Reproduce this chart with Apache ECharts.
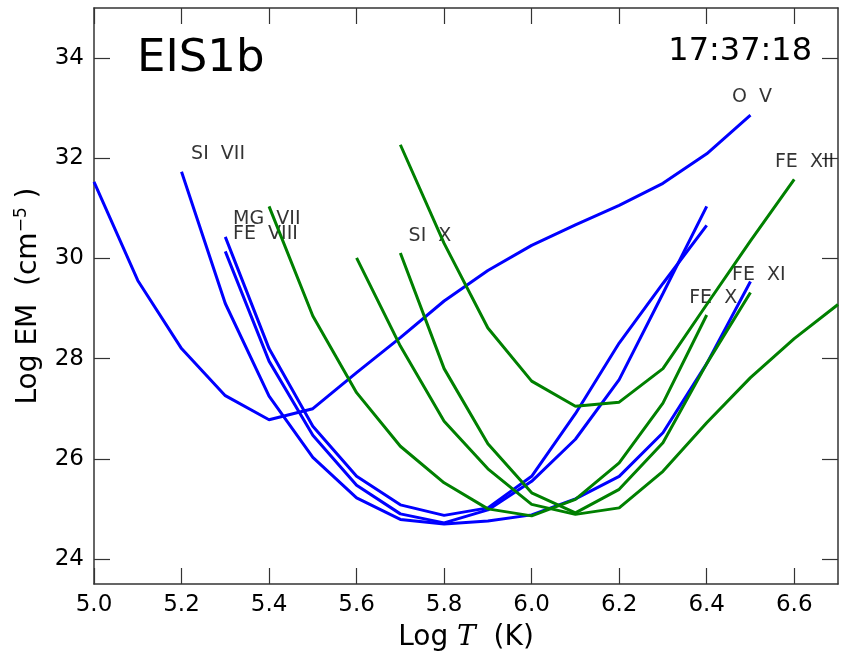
<!DOCTYPE html>
<html>
<head>
<meta charset="utf-8">
<script src="https://cdn.jsdelivr.net/npm/echarts@6/dist/echarts.min.js"></script>
<style>
html, body { margin: 0; padding: 0; background: #fff; }
#chart { width: 842px; height: 657px; }
</style>
</head>
<body>
<div id="chart"></div>
<script>
// temperature grid, Log T
var logT = [5.0, 5.1, 5.2, 5.3, 5.4, 5.5, 5.6, 5.7, 5.8, 5.9, 6.0, 6.1, 6.2, 6.3, 6.4, 6.5, 6.6, 6.7];

// blue curves (Log EM)
var oV    = [31.53, 29.56, 28.2, 27.26, 26.78, 27.0, 27.72, 28.42, 29.15, 29.76, 30.26, 30.67, 31.06, 31.5, 32.09, 32.86, null, null];
var siVII = [null, null, 31.73, 29.1, 27.25, 26.03, 25.22, 24.79, 24.7, 24.76, 24.88, 25.2, 25.65, 26.52, 27.9, 29.54, null, null];
var feVIII = [null, null, null, 30.43, 28.2, 26.65, 25.65, 25.08, 24.87, 25.02, 25.65, 26.9, 28.31, 29.5, 30.66, null, null, null];
var mgVII = [null, null, null, 30.14, 27.95, 26.47, 25.47, 24.9, 24.72, 24.98, 25.55, 26.39, 27.58, 29.3, 31.04, null, null, null];

// green curves
var feX   = [null, null, null, null, 31.04, 28.85, 27.32, 26.25, 25.52, 25.0, 24.86, 25.19, 25.92, 27.11, 28.87, null, null, null];
var grn2  = [null, null, null, null, null, null, 30.01, 28.25, 26.75, 25.8, 25.09, 24.89, 25.02, 25.75, 26.72, 27.62, 28.4, 29.08];
var feXI  = [null, null, null, null, null, null, null, 30.11, 27.8, 26.3, 25.32, 24.92, 25.39, 26.32, 27.9, 29.32, null, null];
var feXII = [null, null, null, null, null, null, null, 32.27, 30.3, 28.61, 27.55, 27.05, 27.13, 27.8, 29.08, 30.35, 31.58, null];

var blueCurves = [oV, siVII, feVIII, mgVII];
var greenCurves = [feX, grn2, feXI, feXII];

// line labels
var lineNames = ['SI  VII', 'MG  VII', 'FE  VIII', 'SI  X', 'O  V', 'FE  XII', 'FE  XI', 'FE  X'];
var nameT  = [5.223, 5.319, 5.319, 5.72, 6.459, 6.557, 6.459, 6.361];
var nameEM = [32.07, 30.77, 30.47, 30.43, 33.22, 31.92, 29.65, 29.19];

var xTicks = [5.0, 5.2, 5.4, 5.6, 5.8, 6.0, 6.2, 6.4, 6.6];
var yTicks = [24, 26, 28, 30, 32, 34];

var chart = echarts.init(document.getElementById('chart'));
var font = 'DejaVu Sans';

function pairs(ys) {
  return logT.map(function (t, i) { return [t, ys[i]]; });
}

var series = [];
blueCurves.forEach(function (c) {
  series.push({ type: 'line', data: pairs(c), symbol: 'none', lineStyle: { color: '#0000ff', width: 3 }, silent: true });
});
greenCurves.forEach(function (c) {
  series.push({ type: 'line', data: pairs(c), symbol: 'none', lineStyle: { color: '#008000', width: 3 }, silent: true });
});
series.push({
  type: 'scatter',
  symbolSize: 1,
  itemStyle: { color: 'rgba(0,0,0,0)' },
  silent: true,
  data: lineNames.map(function (n, i) { return { name: n, value: [nameT[i], nameEM[i]] }; }),
  label: {
    show: true, position: [0, 0], align: 'left', verticalAlign: 'middle',
    formatter: '{b}', color: '#000', fontFamily: font, fontSize: 19
  }
});

var axisLine = { show: true, lineStyle: { color: '#333', width: 1.5 } };
var tickStyle = { color: '#333', width: 1.2 };

var option = {
  animation: false,
  backgroundColor: '#fff',
  grid: { left: 94, right: 4, top: 8, bottom: 72 },
  xAxis: [{
    type: 'value', min: 5.0, max: 6.7,
    axisLine: axisLine,
    axisTick: { inside: true, length: 16, lineStyle: tickStyle, customValues: xTicks },
    axisLabel: { customValues: xTicks, color: '#000', fontFamily: font, fontSize: 23, margin: 10,
      formatter: function (v) { return v.toFixed(1); } },
    splitLine: { show: false },
    name: '{a|Log }{t|T}{a|  (K)}',
    nameLocation: 'middle', nameGap: 40,
    nameTextStyle: { rich: {
      a: { fontFamily: font, fontSize: 28, color: '#000' },
      t: { fontFamily: 'DejaVu Serif', fontStyle: 'italic', fontSize: 28, color: '#000' }
    } }
  }, {
    type: 'value', min: 5.0, max: 6.7, position: 'top',
    axisLine: axisLine,
    axisTick: { inside: true, length: 16, lineStyle: tickStyle, customValues: xTicks },
    axisLabel: { show: false },
    splitLine: { show: false }
  }],
  yAxis: [{
    type: 'value', min: 23.5, max: 35,
    axisLine: axisLine,
    axisTick: { inside: true, length: 16, lineStyle: tickStyle, customValues: yTicks },
    axisLabel: { customValues: yTicks, color: '#000', fontFamily: font, fontSize: 23, margin: 10 },
    splitLine: { show: false },
    name: '{a|Log EM  (cm}{s|−5}{a| )}',
    nameLocation: 'middle', nameGap: 50, nameRotate: 90,
    nameTextStyle: { rich: {
      a: { fontFamily: font, fontSize: 28, color: '#000' },
      s: { fontFamily: font, fontSize: 17, color: '#000', verticalAlign: 'top', padding: [0, 0, 14, 0] }
    } }
  }, {
    type: 'value', min: 23.5, max: 35, position: 'right',
    axisLine: axisLine,
    axisTick: { inside: true, length: 16, lineStyle: tickStyle, customValues: yTicks },
    axisLabel: { show: false },
    splitLine: { show: false }
  }],
  graphic: [
    { type: 'text', left: 137, top: 37, style: { text: 'EIS1b', fontFamily: font, fontSize: 45, fill: '#000' } },
    { type: 'text', right: 30, top: 36, style: { text: '17:37:18', fontFamily: font, fontSize: 32, fill: '#000' } }
  ],
  series: series
};

chart.setOption(option);
</script>
</body>
</html>
